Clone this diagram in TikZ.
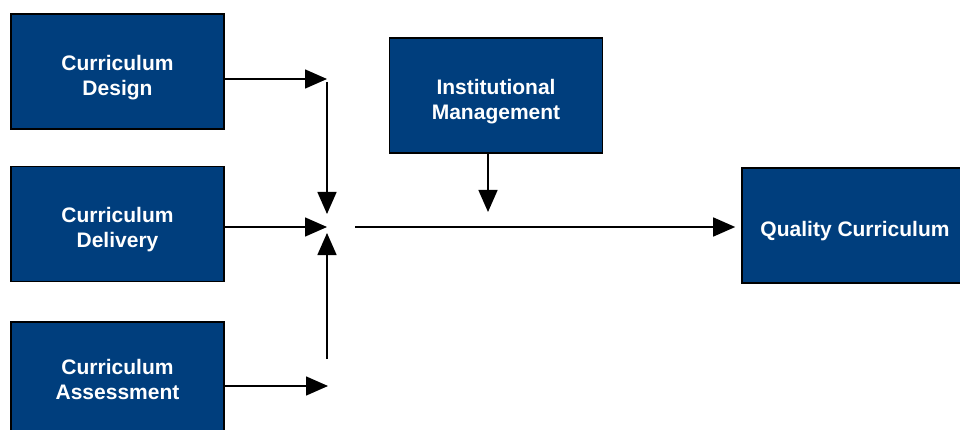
\documentclass[tikz,border=0pt]{standalone}
\usepackage{fontspec}
\setmainfont{Liberation Sans}
\usetikzlibrary{arrows.meta}
\definecolor{boxblue}{RGB}{0,62,125}
\begin{document}
\begin{tikzpicture}
  [x=1pt,y=-1pt,
   box/.style={draw=black,line width=1.6pt,fill=boxblue,text=white,
     font=\fontsize{21}{25}\selectfont\bfseries,align=center,
     text height=52pt,
     minimum width=213pt,minimum height=115pt,inner sep=0pt},
   arr/.style={line width=1.5pt,-{Triangle[length=22pt,width=19pt]}}]
  \useasboundingbox (0,0) rectangle (960,430);
  \clip (0,0) rectangle (960,430);
  \node[box] (design) at (117.5,71.5) {Curriculum\\Design};
  \node[box] (delivery) at (117.5,224) {Curriculum\\Delivery};
  \node[box,text height=40pt] (assess) at (117.5,379.5) {Curriculum\\Assessment};
  \node[box] (inst) at (496,95.5) {Institutional\\Management};
  \node[box,minimum width=226pt,text height=27pt] (quality) at (855,225.5) {Quality Curriculum};

  \coordinate (dtip) at (327,79);
  \coordinate (ltip) at (327,227);
  \coordinate (atip) at (328,386);
  \coordinate (vtop) at (327,82);
  \coordinate (vdown) at (327,214);
  \coordinate (vbot) at (327,359);
  \coordinate (vup) at (327,233);
  \coordinate (hout) at (355,227);
  \coordinate (mtip) at (488,212);

  \draw[arr] (design.east |- dtip) -- (dtip);
  \draw[arr] (delivery.east |- ltip) -- (ltip);
  \draw[arr] (assess.east |- atip) -- (atip);
  \draw[arr] (vtop) -- (vdown);
  \draw[arr] (vbot) -- (vup);
  \draw[arr] (inst.south -| mtip) -- (mtip);
  \draw[arr,shorten >=6pt] (hout) -- (quality.west |- hout);
\end{tikzpicture}
\end{document}
